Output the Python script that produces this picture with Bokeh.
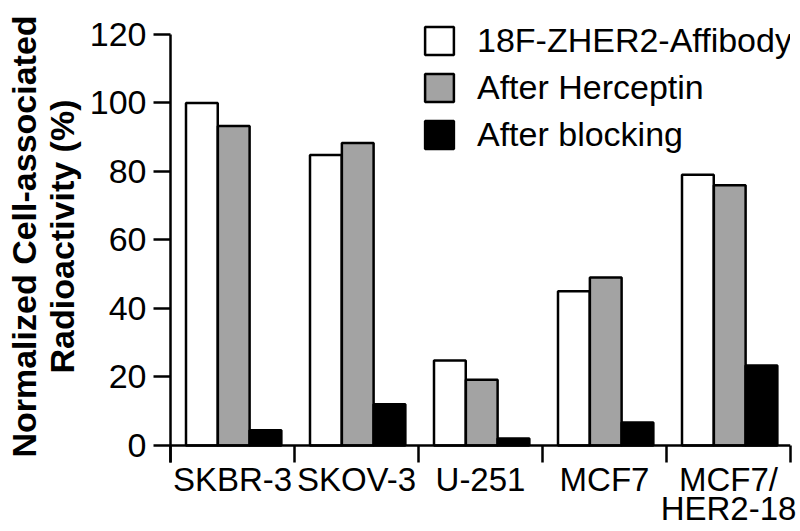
from bokeh.plotting import figure
from bokeh.models import (Range1d, FixedTicker, Span, Legend, LegendItem,
                          ColumnDataSource)
from bokeh.transform import dodge
from bokeh.embed import file_html
from bokeh.resources import INLINE

# ---- data ----
cell_lines = ["SKBR-3", "SKOV-3", "U-251", "MCF7", "MCF7/HER2-18"]
cell_labels = ["SKBR-3", "SKOV-3", "U-251", "MCF7", "MCF7/\nHER2-18"]
affibody = [100.0, 84.8, 24.8, 45.0, 79.0]
herceptin = [93.3, 88.3, 19.2, 49.0, 76.0]
blocking = [4.4, 12.0, 2.0, 6.7, 23.3]
series_names = ["18F-ZHER2-Affibody", "After Herceptin", "After blocking"]
y_ticks = [0, 20, 40, 60, 80, 100, 120]

FONT = "Liberation Sans"
LW = 2.5
Y0, Y1 = -5, 127

n = len(cell_lines)
centers = [i + 0.5 for i in range(n)]          # category centres on the x scale
src = ColumnDataSource(dict(cell=cell_lines, xc=centers, affibody=affibody,
                            herceptin=herceptin, blocking=blocking))

p = figure(width=800, height=531, x_range=Range1d(0, n), y_range=Range1d(Y0, Y1),
           output_backend="svg", toolbar_location=None,
           min_border_left=170, min_border_right=10, min_border_top=10,
           min_border_bottom=69)
p.outline_line_color = None
p.xgrid.visible = False
p.ygrid.visible = False
p.background_fill_color = "white"

# bars
fills = ["white", "#a3a3a3", "black"]
fields = ["affibody", "herceptin", "blocking"]
offsets = [-0.247, 0.010, 0.266]
renderers = []
for f, c, off in zip(fields, fills, offsets):
    r = p.vbar(x=dodge("xc", off), top=f, bottom=0,
               width=0.256, source=src, fill_color=c, line_color="black",
               line_width=LW)
    renderers.append(r)

# baseline at y=0
p.add_layout(Span(location=0, dimension="width", line_color="black",
                  line_width=LW))

# bottom axis: category labels centred, separator ticks at boundaries
xax = p.xaxis[0]
xax.ticker = FixedTicker(ticks=centers, minor_ticks=list(range(n + 1)))
xax.major_label_overrides = {c: lab for c, lab in zip(centers, cell_labels)}
xax.axis_line_color = None
xax.major_tick_in = 0
xax.major_tick_out = 0
xax.minor_tick_in = 17
xax.minor_tick_out = 0
xax.minor_tick_line_width = LW
xax.minor_tick_line_color = "black"
xax.major_label_text_font = FONT
xax.major_label_text_font_size = "33px"
xax.major_label_text_color = "black"
xax.major_label_text_line_height = 0.8
xax.major_label_standoff = -2

# y axis (line stops at 120 like the original)
yax = p.yaxis[0]
yax.ticker = FixedTicker(ticks=y_ticks)
yax.bounds = (Y0, 120)
yax.axis_line_width = LW
yax.axis_line_color = "black"
yax.major_tick_in = 0
yax.major_tick_out = 17
yax.major_tick_line_width = LW
yax.minor_tick_line_color = None
yax.major_label_text_font = FONT
yax.major_label_text_font_size = "34px"
yax.major_label_text_color = "black"
yax.major_label_standoff = 7
yax.axis_label = "Normalized Cell-associated\nRadioactivity (%)"
yax.axis_label_text_font = FONT
yax.axis_label_text_font_size = "34px"
yax.axis_label_text_font_style = "bold"
yax.axis_label_text_color = "black"
yax.axis_label_text_line_height = 1.0
yax.axis_label_standoff = 6

# legend
legend = Legend(items=[LegendItem(label=s, renderers=[r])
                       for s, r in zip(series_names, renderers)],
                location=(251, 308), padding=0, margin=0, spacing=8,
                glyph_width=36, glyph_height=35, label_height=35,
                label_standoff=20, border_line_color=None,
                background_fill_alpha=0)
legend.label_text_font = FONT
legend.label_text_font_size = "34px"
legend.label_text_color = "black"
p.add_layout(legend)

open("out.html", "w").write(file_html(p, INLINE))
